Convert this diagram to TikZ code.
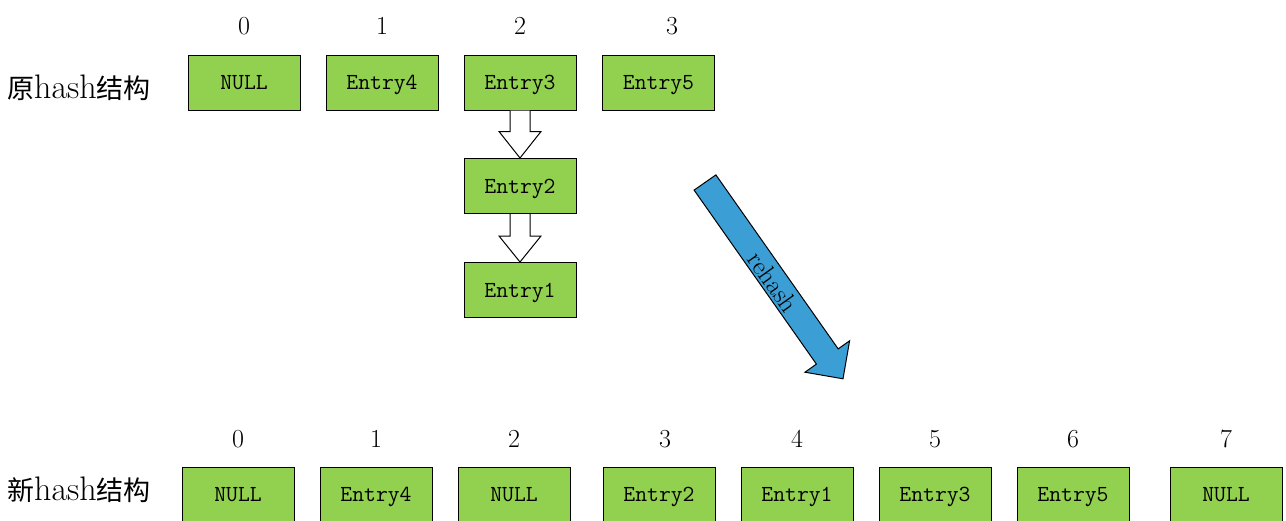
\documentclass[tikz,border=0pt]{standalone}
\usepackage{fontspec}
\usetikzlibrary{calc}
\newfontfamily\cjk{Noto Sans CJK SC}
\definecolor{cellgreen}{HTML}{92D050}
\definecolor{arrowblue}{HTML}{3B9FD6}
\newcommand{\cjkword}[1]{{\cjk\fontsize{27}{30}\selectfont #1}}
\begin{document}
\begin{tikzpicture}[x=1pt,y=-1pt,
  cell/.style={draw=black, line width=1pt, fill=cellgreen, minimum width=112pt,
    minimum height=55pt, inner sep=0pt, text height=14pt, text depth=0pt,
    font=\ttfamily\fontsize{23}{26}\selectfont},
  idx/.style={inner sep=0pt, font=\fontsize{26}{30}\selectfont},
  title/.style={inner sep=0pt, anchor=west, font=\fontsize{34}{36}\selectfont},
  hollow/.style={draw=black, line width=1pt, fill=white, line join=miter}]
\useasboundingbox (0,0) rectangle (1286,520);

% old table
\node[title] (oldt) at (7,88) {\cjkword{原}hash\cjkword{结构}};
\node[cell] (o0) at (244,82.5) {NULL};
\node[cell] (o1) at (382,82.5) {Entry4};
\node[cell] (o2) at (520,82.5) {Entry3};
\node[cell] (o3) at (658.5,82.5) {Entry5};
\node[idx] (oi0) at (244,26) {0};
\node[idx] (oi1) at (382,26) {1};
\node[idx] (oi2) at (520,26) {2};
\node[idx] (oi3) at (672,26) {3};

% chain in bucket 2
\node[cell] (c2) at (520,186) {Entry2};
\node[cell] (c1) at (520,290) {Entry1};

\draw[hollow] ($(o2.south)+(-10,0)$) -- ($(o2.south)+(-10,21)$) -- ($(o2.south)+(-21,21)$)
  -- (c2.north) -- ($(o2.south)+(21,21)$) -- ($(o2.south)+(10,21)$) -- ($(o2.south)+(10,0)$);
\draw[hollow] ($(c2.south)+(-10,0)$) -- ($(c2.south)+(-10,22)$) -- ($(c2.south)+(-21,22)$)
  -- (c1.north) -- ($(c2.south)+(21,22)$) -- ($(c2.south)+(10,22)$) -- ($(c2.south)+(10,0)$);

% rehash arrow
\draw[draw=black, line width=1pt, fill=arrowblue, line join=miter]
  (694.1,190.1) -- (715.9,174.9) -- (838.2,348.9) -- (849.6,340.8)
  -- (843,378.8) -- (805,372.2) -- (816.4,364.1) -- cycle;
\node[inner sep=0pt, rotate=-54.9, font=\fontsize{26}{30}\selectfont] (rh) at (773,282) {rehash};

% new table
\node[title] (newt) at (7,490) {\cjkword{新}hash\cjkword{结构}};
\foreach \i/\x/\lx/\t in {0/238/238/NULL, 1/376/376/Entry4, 2/514/514/NULL,
    3/659/665/Entry2, 4/797/797/Entry1, 5/935/935/Entry3, 6/1073/1073/Entry5,
    7/1226/1226/NULL}{
  \node[cell] (n\i) at (\x,494.5) {\t};
  \node[idx] (ni\i) at (\lx,439) {\i};
}
\end{tikzpicture}
\end{document}
